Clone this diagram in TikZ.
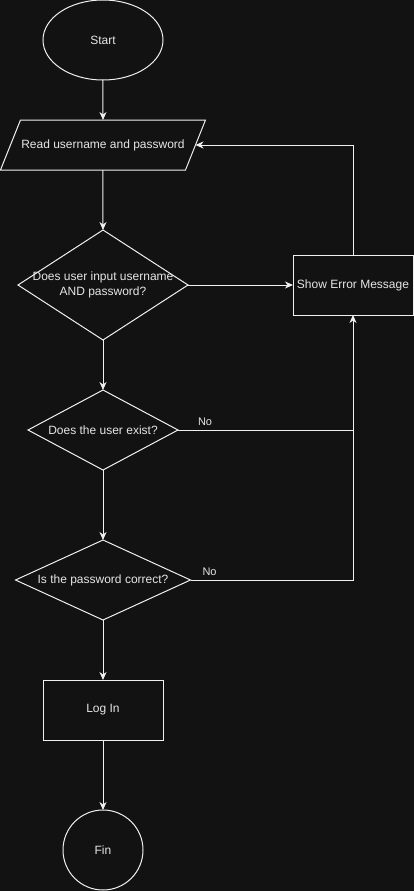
\documentclass[tikz,border=0pt]{standalone}
\usepackage{fontspec}
\setmainfont{Liberation Sans}
\usetikzlibrary{positioning,shapes.geometric,arrows.meta}
\definecolor{canvas}{HTML}{121212}
\definecolor{ink}{HTML}{F0F0F0}
\definecolor{txt}{HTML}{E6E6E6}

\begin{document}
\begin{tikzpicture}[line width=1pt,color=ink,text=txt,
                    font=\fontsize{12pt}{14.5pt}\selectfont,
                    every node/.append style={outer sep=0pt},
                    >={Stealth[length=8pt,width=7pt,inset=2.5pt]},
                    terminal/.style={draw,ellipse,
                                     minimum width=120pt,minimum height=80pt},
                    io/.style={draw,trapezium,trapezium stretches body=true,
                               trapezium left angle=68.2,trapezium right angle=111.8,
                               text height=9pt,text depth=3pt,inner ysep=19pt,
                               minimum width=205pt,inner xsep=0pt},
                    decision/.style={draw,diamond,inner sep=0pt},
                    process/.style={draw,minimum width=120pt,minimum height=60pt,
                                    inner xsep=2pt},
                    finish/.style={draw,circle,minimum size=80pt},
                    answer/.style={font=\fontsize{11pt}{13pt}\selectfont,
                                   inner sep=1pt,above right,yshift=3pt}]
  \fill[canvas,use as bounding box] (0,0) rectangle (414pt,-891pt);
  \node[terminal] (start) at (103pt,-40pt) {Start};
  \node[io,below=40pt of start] (read) {Read username and password};
  \node[decision,minimum width=170pt,minimum height=110pt,below=60pt of read,
        label={[align=center]center:Does user input username\\AND password?}] (filled) {};
  \node[process,right=105pt of filled] (error) {Show Error Message};
  \node[decision,minimum width=150pt,minimum height=80pt,below=50pt of filled,
        label={center:Does the user exist?}] (exists) {};
  \node[decision,minimum width=175pt,minimum height=80pt,below=70pt of exists,
        label={center:Is the password correct?}] (correct) {};
  \node[process,below=60pt of correct] (login) {Log In};
  \node[finish,below=70pt of login] (fin) {Fin};
  \coordinate (join) at (error |- exists);

  \draw[->] (start) -- (read);
  \draw[->] (read) -- (filled);
  \draw[->] (filled) -- (error);
  \draw[->] (error) |- (read);
  \draw[->] (filled) -- (exists);
  \draw (exists) -- node[answer,at start,xshift=19pt] {No} (join);
  \draw[->] (exists) -- (correct);
  \draw[->] (correct) -| node[answer,at start,xshift=11pt] {No} (error);
  \draw[->] (correct) -- (login);
  \draw[->] (login) -- (fin);
\end{tikzpicture}
\end{document}
